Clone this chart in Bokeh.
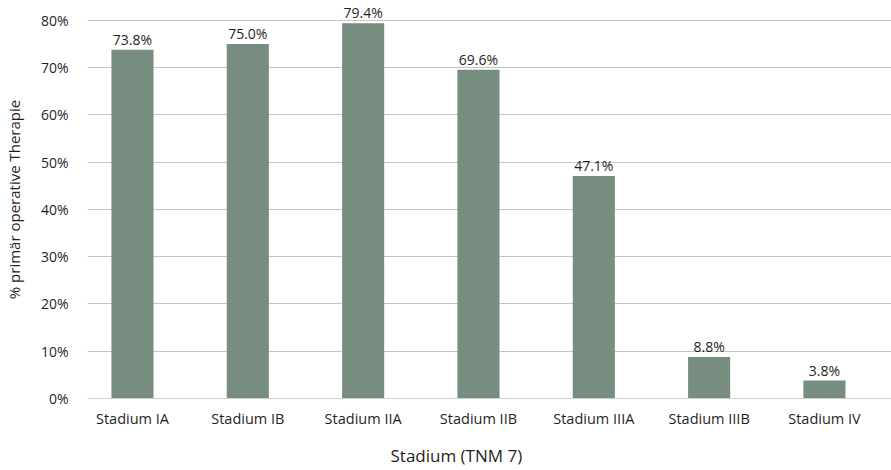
from bokeh.plotting import figure
from bokeh.models import ColumnDataSource, Range1d, FixedTicker, Title
from bokeh.core.properties import value
from bokeh.embed import file_html
from bokeh.resources import INLINE

# Share of patients receiving primary surgery, by tumour stage (TNM 7)
stages = ["Stadium IA", "Stadium IB", "Stadium IIA", "Stadium IIB",
          "Stadium IIIA", "Stadium IIIB", "Stadium IV"]
share_pct = [73.8, 75.0, 79.4, 69.6, 47.1, 8.8, 3.8]
y_ticks = [0, 10, 20, 30, 40, 50, 60, 70, 80]

FONT = "Open Sans"
TEXT = "#1f1f1f"
BAR = "#778d80"

xs = list(range(len(stages)))
src = ColumnDataSource(dict(
    x=xs,
    top=share_pct,
    label=[f"{v:.1f}%" for v in share_pct],
))

p = figure(
    width=891, height=470,
    frame_width=808, frame_height=398,
    min_border_left=83, min_border_right=0,
    min_border_top=0, min_border_bottom=72,
    x_range=Range1d(-0.39, 6.616),
    y_range=Range1d(0, 84.23),
    output_backend="svg", toolbar_location=None,
    background_fill_color="white", border_fill_color="white",
    outline_line_color=None,
)

p.vbar(x="x", top="top", width=0.365, bottom=0, source=src,
       fill_color=BAR, line_color=None)

p.text(x="x", y="top", text="label", source=src,
       text_align="center", text_baseline="bottom", y_offset=-1,
       text_font=value(FONT), text_font_size="14px", text_color=TEXT)

# y axis
p.yaxis.ticker = FixedTicker(ticks=y_ticks)
p.yaxis.major_label_overrides = {t: f"{t}%" for t in y_ticks}
p.yaxis.axis_line_color = None
p.yaxis.major_tick_line_color = None
p.yaxis.minor_tick_line_color = None
p.yaxis.major_label_standoff = 13
p.yaxis.major_label_text_font = FONT
p.yaxis.major_label_text_font_size = "14px"
p.yaxis.major_label_text_color = TEXT
p.yaxis.axis_label = "% primär operative Therapie"
p.yaxis.axis_label_text_font = FONT
p.yaxis.axis_label_text_font_size = "15px"
p.yaxis.axis_label_text_font_style = "normal"
p.yaxis.axis_label_text_color = TEXT
p.yaxis.axis_label_standoff = 14

# x axis
p.xaxis.ticker = FixedTicker(ticks=xs)
p.xaxis.major_label_overrides = {i: s for i, s in enumerate(stages)}
p.xaxis.axis_line_color = "#d0d0d0"
p.xaxis.axis_line_width = 1
p.xaxis.major_tick_line_color = None
p.xaxis.minor_tick_line_color = None
p.xaxis.major_label_standoff = 4
p.xaxis.major_label_text_font = FONT
p.xaxis.major_label_text_font_size = "14.5px"
p.xaxis.major_label_text_color = TEXT

p.xgrid.grid_line_color = None
p.ygrid.grid_line_color = "#c4c4c4"
p.ygrid.grid_line_width = 1

p.add_layout(Title(text="Stadium (TNM 7)", align="left", offset=303,
                   text_font=FONT, text_font_size="17px",
                   text_font_style="normal", text_color=TEXT,
                   standoff=23), "below")

open("out.html", "w").write(file_html(p, INLINE))
